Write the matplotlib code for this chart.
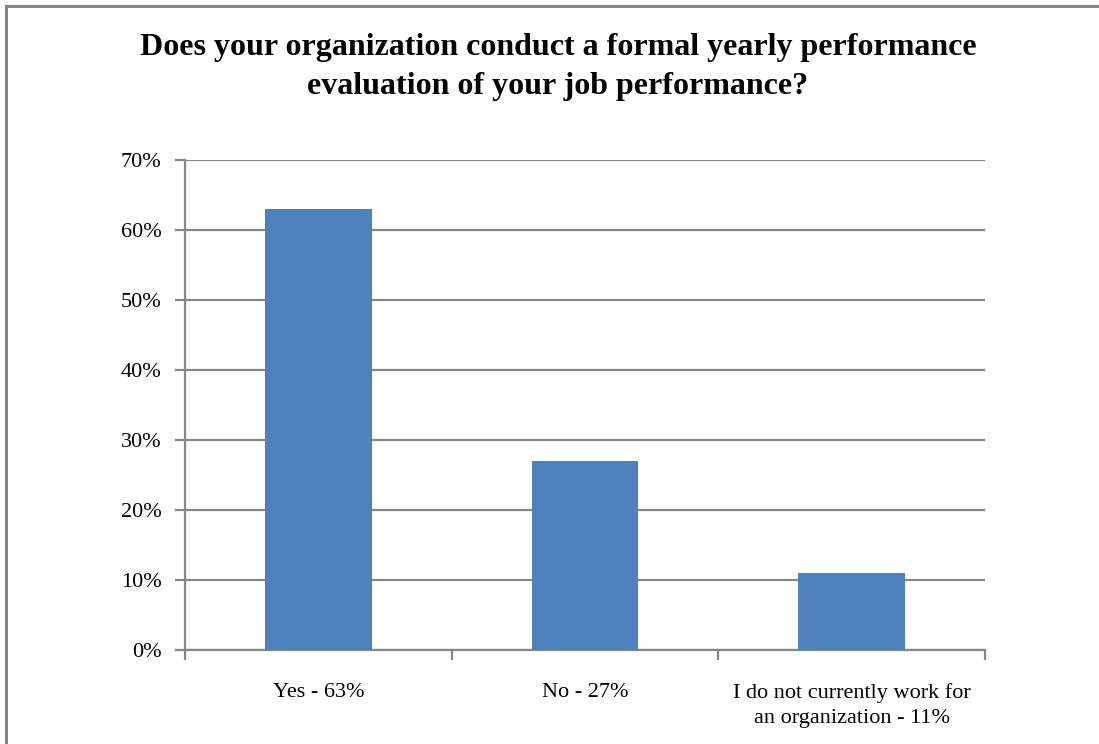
import matplotlib
matplotlib.use("Agg")
import matplotlib.pyplot as plt
from matplotlib.patches import Rectangle
from matplotlib.ticker import FixedLocator, NullFormatter

categories = ["Yes - 63%", "No - 27%", "I do not currently work for\nan organization - 11%"]
values = [63, 27, 11]
yticks = [0, 10, 20, 30, 40, 50, 60, 70]
ytick_labels = ["0%", "10%", "20%", "30%", "40%", "50%", "60%", "70%"]
title = "Does your organization conduct a formal yearly performance\nevaluation of your job performance?"

W, H = 1099, 744
fig = plt.figure(figsize=(W / 100, H / 100), dpi=100)
plt.rcParams["font.family"] = ["Liberation Serif", "DejaVu Serif"]

grid_c = "#868686"
bar_c = "#4F81BD"

# outer chart frame
fig.patches.append(Rectangle((6 / W, -0.1), 1.2, 1 - 6 / H + 0.1, transform=fig.transFigure,
                             fill=False, edgecolor=grid_c, linewidth=2.2))

ax = fig.add_axes([185 / W, (H - 650) / H, 800 / W, 490 / H])
x = list(range(len(categories)))
ax.bar(x, values, width=0.4, color=bar_c, zorder=3)
ax.set_xlim(-0.5, len(categories) - 0.5)
ax.set_ylim(0, 70)

ax.set_yticks(yticks)
ax.set_yticklabels(ytick_labels, fontsize=16)
ax.yaxis.grid(True, color=grid_c, linewidth=1.6, zorder=0)
ax.tick_params(axis="y", length=7, width=1.6, color=grid_c, pad=10)

ax.set_xticks(x)
ax.set_xticklabels(categories, fontsize=16, linespacing=1.4)
ax.tick_params(axis="x", which="major", length=0, pad=24)
ax.xaxis.set_minor_locator(FixedLocator([i - 0.5 for i in range(len(categories) + 1)]))
ax.xaxis.set_minor_formatter(NullFormatter())
ax.tick_params(axis="x", which="minor", length=7, width=1.6, color=grid_c)

for s in ["top", "right"]:
    ax.spines[s].set_visible(False)
for s in ["left", "bottom"]:
    ax.spines[s].set_color(grid_c)
    ax.spines[s].set_linewidth(1.6)

fig.text(558 / W, 1 - 67 / H, title, ha="center", va="center", fontsize=23,
         fontweight="bold", linespacing=1.45)

fig.savefig("out.png", dpi=100)
